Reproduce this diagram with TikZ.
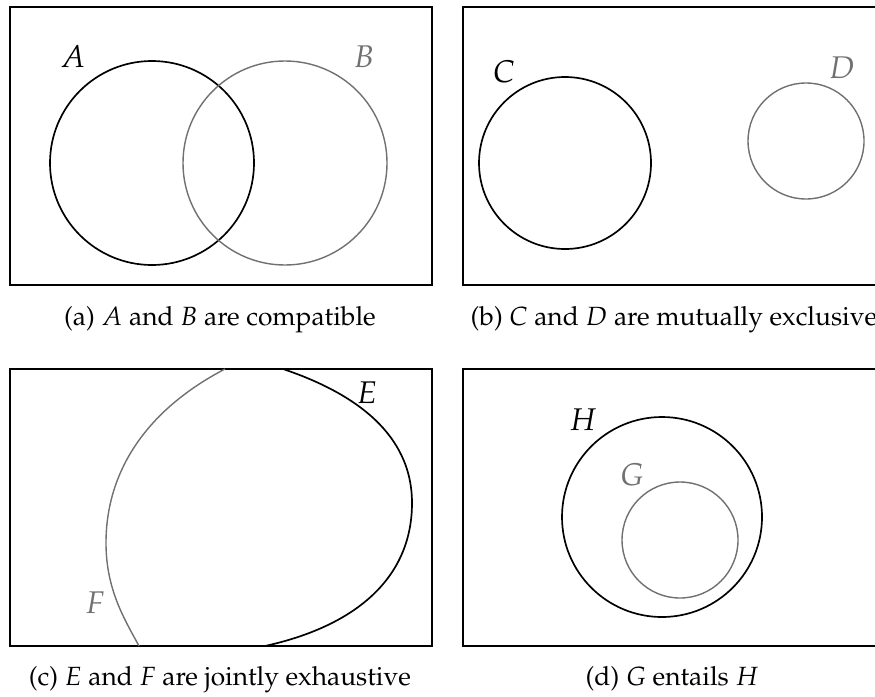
\documentclass[tikz,border=0pt]{standalone}
\usepackage[T1]{fontenc}
\usepackage{mathpazo}
\definecolor{cline}{RGB}{0,0,0}
\definecolor{cgrey}{RGB}{112,112,112}

\begin{document}
\begin{tikzpicture}[x=0.357pt, y=-0.357pt,
  frame/.style={draw=cline, line width=0.7pt},
  sblack/.style={draw=cline, line width=0.6pt},
  sgrey/.style={draw=cgrey, line width=0.5pt},
  lbl/.style={inner sep=0pt, font=\fontsize{11.2}{13}\selectfont},
  lblg/.style={lbl, text=cgrey},
  captxt/.style={inner sep=0pt, anchor=base, font=\fontsize{9.4}{11}\selectfont},
]
\useasboundingbox (0,0) rectangle (875,696);
\clip (0,0) rectangle (875,696);
% --- (a) compatible ---------------------------------------------------
\draw[frame] (10,7) rectangle (432,285);
\draw[sblack] (152,163) circle (102);
\draw[sgrey] (285,163) circle (102);
\node[lbl] (labA) at (73,57) {$A$};
\node[lblg] (labB) at (364,57) {$B$};
\node[captxt] (capa) at (220,325) {(a) $A$ and $B$ are compatible};
% --- (b) mutually exclusive -------------------------------------------
\draw[frame] (463,7) rectangle (885,285);
\draw[sblack] (565,163) circle (86);
\draw[sgrey] (806,141) circle (58);
\node[lbl] (labC) at (504,72) {$C$};
\node[lblg] (labD) at (842,68) {$D$};
\node[captxt] (capb) at (674,325) {(b) $C$ and $D$ are mutually exclusive};
% --- (c) jointly exhaustive -------------------------------------------
\draw[frame] (10,369) rectangle (432,646);
\draw[sblack] (283,369) .. controls (390,405) and (412,460) .. (412,503)
  .. controls (412,575) and (360,625) .. (265,646);
\draw[sgrey] (225,369) .. controls (150,408) and (106,468) .. (106,543)
  .. controls (106,590) and (125,620) .. (139,646);
\node[lbl] (labE) at (367,393) {$E$};
\node[lblg] (labF) at (95,603) {$F$};
\node[captxt] (capc) at (220,685) {(c) $E$ and $F$ are jointly exhaustive};
% --- (d) entails ------------------------------------------------------
\draw[frame] (463,369) rectangle (885,646);
\draw[sblack] (662,517) circle (100);
\draw[sgrey] (680,540) circle (58);
\node[lbl] (labH) at (583,420) {$H$};
\node[lblg] (labG) at (632,475) {$G$};
\node[captxt] (capd) at (672,685) {(d) $G$ entails $H$};
\end{tikzpicture}
\end{document}
